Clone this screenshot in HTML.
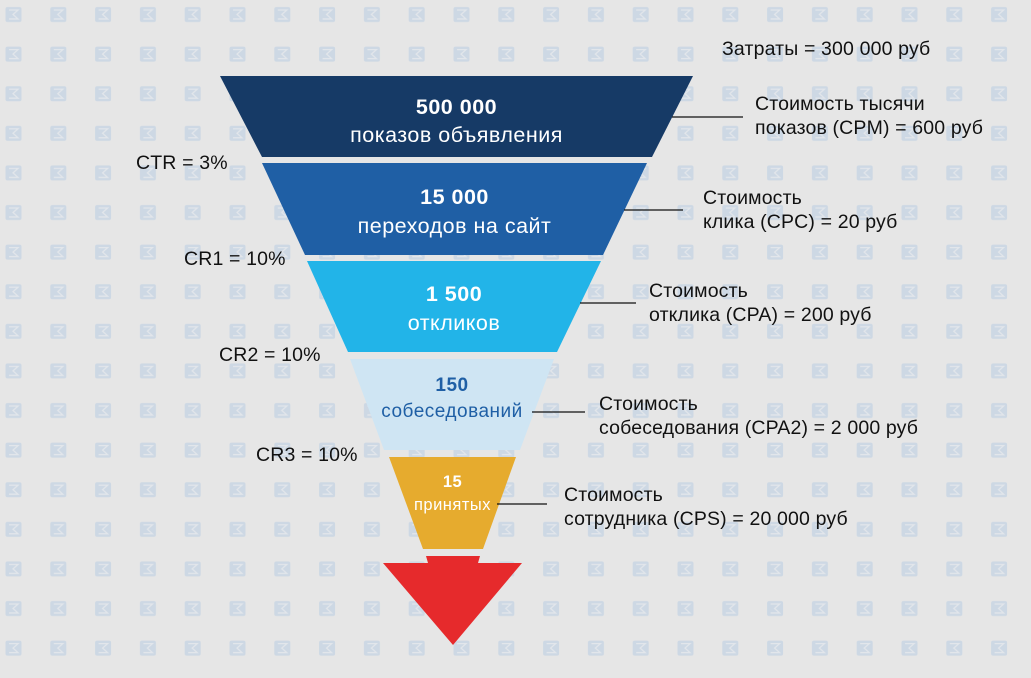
<!DOCTYPE html>
<html><head><meta charset="utf-8"><style>
html,body{margin:0;padding:0}
body{width:1031px;height:678px;overflow:hidden;background:#e6e6e6;font-family:"Liberation Sans",Arial,sans-serif;position:relative}
svg{position:absolute;left:0;top:0}
.t{position:absolute;color:#111;font-size:19.5px;line-height:24px;white-space:nowrap;letter-spacing:0.15px}
.c{position:absolute;text-align:center;color:#fff;white-space:nowrap;letter-spacing:0.5px}
</style></head><body>
<svg width="1031" height="678">
<defs>
<pattern id="p" x="0" y="0" width="44.8" height="39.6" patternUnits="userSpaceOnUse">
<rect x="5.5" y="7" width="16" height="15" rx="2" fill="#cdd8e4"/>
<path d="M9 10 H18 L13 14.5 L18 19 H9" fill="none" stroke="#e2e6eb" stroke-width="1.3"/>
</pattern>
</defs>
<rect width="1031" height="678" fill="url(#p)"/>
<polygon points="220,76 693,76 652,157 262,157" fill="#163a66"/>
<polygon points="262,163 647,163 603,255 305,255" fill="#1f5fa5"/>
<polygon points="307,261 601,261 557,352 348,352" fill="#22b4e8"/>
<polygon points="350,359 554,359 520,450 384,450" fill="#cfe5f3"/>
<polygon points="389,457 516,457 483,549 423,549" fill="#e6ab2e"/>
<polygon points="426,556 480,556 478,563 522,563 453,645 383,563 428,563" fill="#e62a2c"/>
<g stroke="#111" stroke-width="1.2">
<line x1="672" y1="117" x2="743" y2="117"/>
<line x1="624" y1="210" x2="683" y2="210"/>
<line x1="580" y1="303" x2="636" y2="303"/>
<line x1="532" y1="412" x2="585" y2="412"/>
<line x1="497" y1="504" x2="547" y2="504"/>
</g>
</svg>
<div class="c" style="left:220px;width:473px;top:93px;font-size:21.5px;line-height:28px"><b>500 000</b><br>показов объявления</div>
<div class="c" style="left:262px;width:385px;top:183px;font-size:21.5px;line-height:29px"><b>15 000</b><br>переходов на сайт</div>
<div class="c" style="left:307px;width:294px;top:280px;font-size:21.5px;line-height:29px"><b>1 500</b><br>откликов</div>
<div class="c" style="left:350px;width:204px;top:373px;font-size:19px;line-height:26px;color:#1f5fa5"><b>150</b><br>собеседований</div>
<div class="c" style="left:389px;width:127px;top:471px;font-size:16.5px;line-height:23px"><b>15</b><br>принятых</div>
<div class="t" style="left:722px;top:37px">Затраты = 300 000 руб</div>
<div class="t" style="left:755px;top:92px">Стоимость тысячи<br>показов (CPM) = 600 руб</div>
<div class="t" style="left:703px;top:186px">Стоимость<br>клика (CPC) = 20 руб</div>
<div class="t" style="left:649px;top:279px">Стоимость<br>отклика (CPA) = 200 руб</div>
<div class="t" style="left:599px;top:392px">Стоимость<br>собеседования (CPA2) = 2 000 руб</div>
<div class="t" style="left:564px;top:483px">Стоимость<br>сотрудника (CPS) = 20 000 руб</div>
<div class="t" style="left:136px;top:151px">CTR = 3%</div>
<div class="t" style="left:184px;top:247px">CR1 = 10%</div>
<div class="t" style="left:219px;top:343px">CR2 = 10%</div>
<div class="t" style="left:256px;top:443px">CR3 = 10%</div>
</body></html>
